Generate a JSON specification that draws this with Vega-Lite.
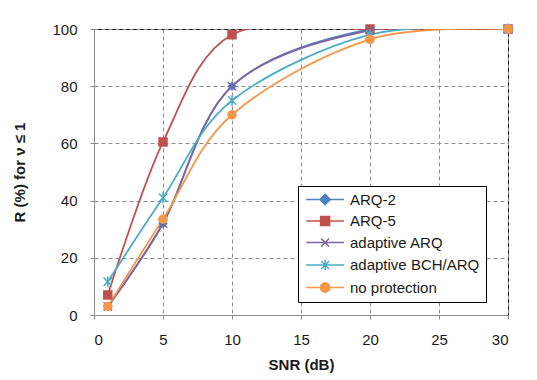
{
  "$schema": "https://vega.github.io/schema/vega-lite/v6.json",
  "width": 414,
  "height": 286,
  "autosize": {"type": "none"},
  "padding": {"left": 94, "top": 29, "right": 29, "bottom": 65},
  "background": "white",
  "config": {
    "font": "Liberation Sans",
    "view": {"stroke": "#000000", "strokeWidth": 1}
  },
  "data": {
    "values": [
      {"snr": 1, "r": 3, "series": "ARQ-2"},
      {"snr": 5, "r": 32, "series": "ARQ-2"},
      {"snr": 10, "r": 80, "series": "ARQ-2"},
      {"snr": 20, "r": 100, "series": "ARQ-2"},
      {"snr": 30, "r": 100, "series": "ARQ-2"},
      {"snr": 1, "r": 7, "series": "ARQ-5"},
      {"snr": 5, "r": 60.5, "series": "ARQ-5"},
      {"snr": 10, "r": 98, "series": "ARQ-5"},
      {"snr": 20, "r": 100, "series": "ARQ-5"},
      {"snr": 30, "r": 100, "series": "ARQ-5"},
      {"snr": 1, "r": 3, "series": "adaptive ARQ"},
      {"snr": 5, "r": 32, "series": "adaptive ARQ"},
      {"snr": 10, "r": 80, "series": "adaptive ARQ"},
      {"snr": 20, "r": 99.5, "series": "adaptive ARQ"},
      {"snr": 30, "r": 100, "series": "adaptive ARQ"},
      {"snr": 1, "r": 11.6, "series": "adaptive BCH/ARQ"},
      {"snr": 5, "r": 41, "series": "adaptive BCH/ARQ"},
      {"snr": 10, "r": 75, "series": "adaptive BCH/ARQ"},
      {"snr": 20, "r": 98, "series": "adaptive BCH/ARQ"},
      {"snr": 30, "r": 100, "series": "adaptive BCH/ARQ"},
      {"snr": 1, "r": 3, "series": "no protection"},
      {"snr": 5, "r": 33.5, "series": "no protection"},
      {"snr": 10, "r": 70, "series": "no protection"},
      {"snr": 20, "r": 96.4, "series": "no protection"},
      {"snr": 30, "r": 100, "series": "no protection"}
    ]
  },
  "encoding": {
    "x": {
      "field": "snr", "type": "quantitative",
      "scale": {"domain": [0, 30], "nice": false},
      "axis": {
        "values": [0, 5, 10, 15, 20, 25, 30],
        "title": "SNR (dB)",
        "titleFont": "Liberation Sans", "titleFontSize": 15, "titleFontWeight": "bold", "titleColor": "#1a1a1a",
        "titlePadding": 10,
        "labelFontSize": 15, "labelColor": "#1a1a1a", "labelPadding": 13,
        "tickSize": 4, "tickColor": "#8c8c8c", "domainColor": "#8c8c8c",
        "grid": true, "gridColor": "#8c8c8c", "gridDash": [4, 3], "gridWidth": 1
      }
    },
    "y": {
      "field": "r", "type": "quantitative",
      "scale": {"domain": [0, 100], "nice": false},
      "axis": {
        "values": [0, 20, 40, 60, 80, 100],
        "title": "R (%) for ν ≤ 1",
        "titleFont": "Liberation Sans", "titleFontSize": 15, "titleFontWeight": "bold", "titleColor": "#1a1a1a",
        "titlePadding": 24,
        "labelFontSize": 15, "labelColor": "#1a1a1a", "labelPadding": 13,
        "tickSize": 4, "tickColor": "#8c8c8c", "domainColor": "#8c8c8c",
        "grid": true, "gridColor": "#8c8c8c", "gridDash": [4, 3], "gridWidth": 1
      }
    },
    "color": {
      "field": "series", "type": "nominal",
      "scale": {
        "domain": ["ARQ-2", "ARQ-5", "adaptive ARQ", "adaptive BCH/ARQ", "no protection"],
        "range": ["#4F81BD", "#C0504D", "#8064A2", "#4BACC6", "#F79646"]
      },
      "legend": {
        "title": null,
        "orient": "none",
        "legendX": 204,
        "legendY": 157,
        "padding": 6,
        "strokeColor": "#000000",
        "fillColor": "#ffffff",
        "labelFontSize": 15,
        "labelColor": "#1a1a1a",
        "labelOffset": 31,
        "rowPadding": 5.5,
        "symbolSize": 110,
        "symbolStrokeWidth": 1.5,
        "encode": {
          "symbols": {
            "update": {
              "shape": {"signal": "datum.value === 'ARQ-2' ? 'M-1,0L6.2,0M2.6,-1L3.6,0L2.6,1L1.6,0Z' : datum.value === 'ARQ-5' ? 'M-1,0L6.2,0M1.75,-0.85L3.45,-0.85L3.45,0.85L1.75,0.85Z' : datum.value === 'adaptive ARQ' ? 'M-1,0L6.2,0M1.85,-0.75L3.35,0.75M1.85,0.75L3.35,-0.75' : datum.value === 'adaptive BCH/ARQ' ? 'M-1,0L6.2,0M1.85,-0.75L3.35,0.75M1.85,0.75L3.35,-0.75M2.6,-1L2.6,1' : 'M-1,0L6.2,0M3.5,0A0.9,0.9,0,1,1,1.7,0A0.9,0.9,0,1,1,3.5,0Z'"},
              "size": {"value": 110},
              "fill": {"signal": "scale('color', datum.value)"},
              "stroke": {"signal": "scale('color', datum.value)"},
              "strokeWidth": {"value": 1.5},
              "opacity": {"value": 1}
            }
          }
        }
      }
    }
  },
  "layer": [
    {"mark": {"type": "line", "interpolate": "cardinal", "strokeWidth": 1.8, "clip": true}},
    {
      "transform": [{"filter": "datum.series === 'ARQ-2'"}],
      "mark": {"type": "point", "shape": "diamond", "filled": true, "opacity": 1, "size": 90, "strokeWidth": 1}
    },
    {
      "transform": [{"filter": "datum.series === 'ARQ-5'"}],
      "mark": {"type": "point", "shape": "square", "filled": true, "opacity": 1, "size": 90, "strokeWidth": 1}
    },
    {
      "transform": [{"filter": "datum.series === 'adaptive ARQ'"}],
      "mark": {"type": "point", "shape": "M-1,-1L1,1M-1,1L1,-1", "filled": false, "opacity": 1, "size": 70, "strokeWidth": 1.5}
    },
    {
      "transform": [{"filter": "datum.series === 'adaptive BCH/ARQ'"}],
      "mark": {"type": "point", "shape": "M-1,-1L1,1M-1,1L1,-1M0,-1.3L0,1.3", "filled": false, "opacity": 1, "size": 70, "strokeWidth": 1.5}
    },
    {
      "transform": [{"filter": "datum.series === 'no protection'"}],
      "mark": {"type": "point", "shape": "circle", "filled": true, "opacity": 1, "size": 90, "strokeWidth": 1}
    }
  ]
}
